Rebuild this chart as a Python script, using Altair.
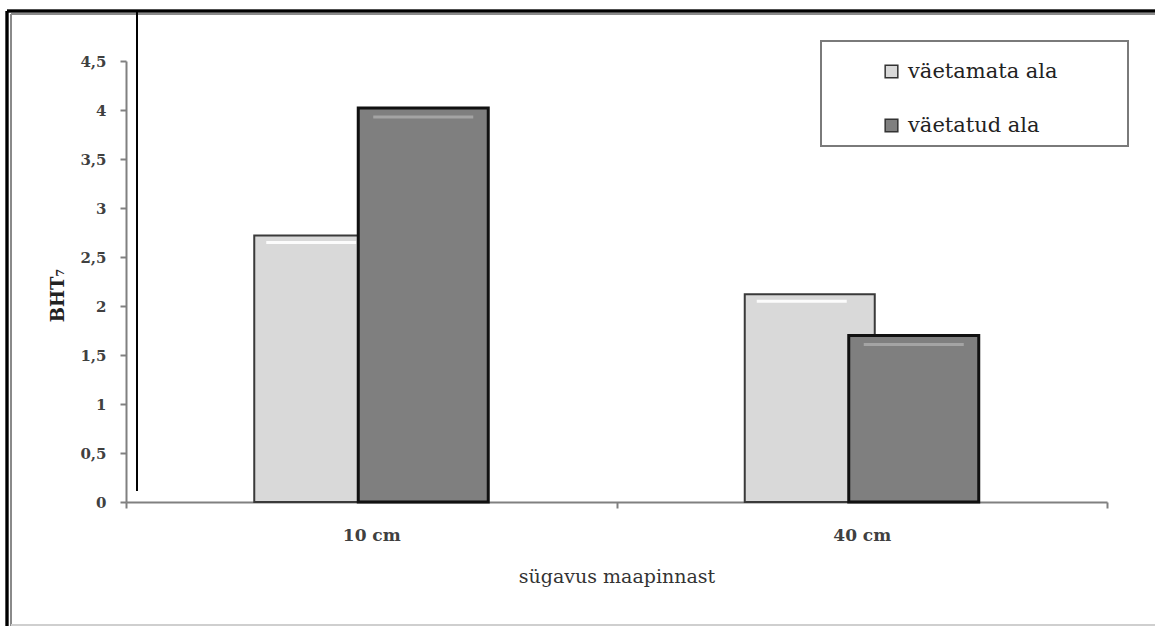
import altair as alt
import pandas as pd

# Soil depth groups and the two treatment series
depths = ["10 cm", "40 cm"]
series_names = ["väetamata ala", "väetatud ala"]
unfertilized = [2.72, 2.12]
fertilized = [4.02, 1.70]
y_ticks = [0, 0.5, 1, 1.5, 2, 2.5, 3, 3.5, 4, 4.5]

rows = []
for d, a, b in zip(depths, unfertilized, fertilized):
    rows.append({"depth": d, "series": series_names[0], "value": a})
    rows.append({"depth": d, "series": series_names[1], "value": b})
df = pd.DataFrame(rows)

SERIF = "DejaVu Serif"
W, H = 981, 441
BAR_W = 130
SHIFT = 52

x_enc = alt.X(
    "depth:N",
    sort=depths,
    scale=alt.Scale(paddingInner=0, paddingOuter=0),
    axis=alt.Axis(
        title="sügavus maapinnast",
        labelAngle=0,
        tickBand="extent",
        tickSize=6,
        tickWidth=2,
        tickColor="#808080",
        domainColor="#808080",
        domainWidth=2,
        labelFont=SERIF,
        labelFontWeight="bold",
        labelFontSize=17,
        labelColor="#404040",
        labelPadding=19,
        titleFont=SERIF,
        titleFontWeight="normal",
        titleFontSize=19,
        titleColor="#333333",
        titlePadding=24,
    ),
)
y_enc = alt.Y(
    "value:Q",
    scale=alt.Scale(domain=[0, 4.5], nice=False),
    axis=alt.Axis(
        title="BHT₇",
        values=y_ticks,
        labelExpr="replace(toString(datum.value), '.', ',')",
        tickSize=6,
        tickWidth=2,
        tickColor="#808080",
        domainColor="#808080",
        domainWidth=2,
        labelFont=SERIF,
        labelFontWeight="bold",
        labelFontSize=15,
        labelColor="#404040",
        labelPadding=14,
        titleFont=SERIF,
        titleFontWeight="bold",
        titleFontSize=18,
        titleColor="#222222",
        titlePadding=12,
        titleY=234,
    ),
)
color_enc = alt.Color(
    "series:N",
    scale=alt.Scale(domain=series_names, range=["#d9d9d9", "#7f7f7f"]),
    legend=alt.Legend(
        title=None,
        orient="none",
        legendX=755,
        legendY=0,
        padding=0,
        symbolType="square",
        symbolSize=160,
        symbolStrokeColor="#333333",
        symbolStrokeWidth=1.5,
        labelFont=SERIF,
        labelFontSize=21,
        labelColor="#222222",
        labelOffset=6,
        rowPadding=32,
    ),
)

base = alt.Chart(df)

light = base.transform_filter(alt.datum.series == series_names[0]).mark_bar(
    width=BAR_W, xOffset=-SHIFT, stroke="#3a3a3a", strokeWidth=2
).encode(x=x_enc, y=y_enc, fill=color_enc)

dark = base.transform_filter(alt.datum.series == series_names[1]).mark_bar(
    width=BAR_W, xOffset=SHIFT, stroke="#111111", strokeWidth=3
).encode(x=x_enc, y=y_enc, fill=color_enc)

# soft bevel highlight just below each bar top
light_hi = base.transform_filter(alt.datum.series == series_names[0]).mark_tick(
    size=BAR_W - 40, thickness=3, xOffset=-SHIFT - 8, yOffset=7, color="#ffffff", opacity=0.9
).encode(x=x_enc, y=y_enc)
dark_hi = base.transform_filter(alt.datum.series == series_names[1]).mark_tick(
    size=BAR_W - 30, thickness=3, xOffset=SHIFT, yOffset=9, color="#a8a8a8", opacity=0.9
).encode(x=x_enc, y=y_enc)

# legend frame
legend_box = base.mark_rect(fill="white", stroke="#7a7a7a", strokeWidth=2).encode(
    x=alt.value(695), x2=alt.value(1002), y=alt.value(-20), y2=alt.value(85)
)

# outer double frame and the stray vertical rule
def rule(x, x2, y, y2, color, width):
    return base.mark_rule(color=color, strokeWidth=width).encode(
        x=alt.value(x), x2=alt.value(x2), y=alt.value(y), y2=alt.value(y2)
    )

frame = [
    rule(-119, 1029, -50, -50, "#000000", 2.5),
    rule(-115, 1029, -47, -47, "#8a8a8a", 1.5),
    rule(-119, -119, -50, 565, "#000000", 2.5),
    rule(-115, -115, -47, 565, "#8a8a8a", 1.5),
    rule(-115, 1029, 564, 564, "#cfcfcf", 1.5),
    rule(11, 11, -50, 430, "#000000", 1.5),
]

chart = alt.layer(
    legend_box, *frame, light, light_hi, dark, dark_hi
).properties(
    width=W, height=H,
    autosize=alt.AutoSizeParams(type="none"),
    padding={"left": 126, "top": 61, "right": 48, "bottom": 124},
    background="white",
).configure_view(stroke=None).configure_axis(grid=False)

chart.save("out.html", embed_options={"renderer": "svg", "actions": False})
